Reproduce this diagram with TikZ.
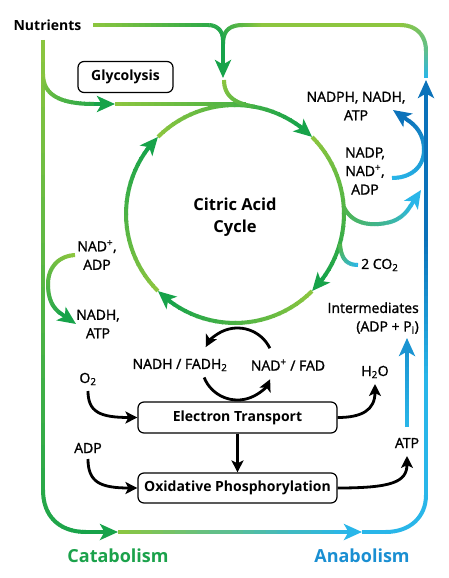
\documentclass[tikz,border=0pt]{standalone}
\usepackage{fontspec}
\setmainfont{Open Sans}
\newfontfamily\lblfont[FakeBold=1.4]{Open Sans}
\usetikzlibrary{arrows.meta,calc}
\definecolor{LG}{HTML}{8DC63F}
\definecolor{DG}{HTML}{17A34A}
\definecolor{MG}{HTML}{52B547}
\definecolor{LB}{HTML}{29B6E9}
\definecolor{DB}{HTML}{0B72BA}
\definecolor{CatG}{HTML}{1BA24B}
\definecolor{AnaB}{HTML}{1A8FD2}
% gradient stroke along one path segment: colA colB pctA pctB {segment}
\newcommand\gseg[5]{%
  \foreach \k in {0,...,19}{%
    \pgfmathsetmacro\gta{\k/20}%
    \pgfmathsetmacro\gtb{min(1,(\k+1.2)/20)}%
    \pgfmathsetmacro\gpc{#3+(#4-#3)*(\k+0.5)/20}%
    \path #5 coordinate[pos=\gta] (ga) coordinate[pos=\gtb] (gb);%
    \draw[gline, draw=#2!\gpc!#1] (ga) -- (gb);%
  }%
}
% gradient circular arc: colA colB cx cy r a1 a2
\newcommand\garc[7]{%
  \foreach \k in {0,...,23}{%
    \pgfmathsetmacro\gta{#6+(#7-#6)*\k/24}%
    \pgfmathsetmacro\gtb{#6+(#7-#6)*min(1,(\k+1.2)/24)}%
    \pgfmathsetmacro\gpc{100*(\k+0.5)/24}%
    \draw[gline, draw=#2!\gpc!#1] ([shift={(#3,#4)}]\gta:#5) -- ([shift={(#3,#4)}]\gtb:#5);%
  }%
}
\tikzset{
  gline/.style={line width=4pt, line cap=butt},
  garrow/.style={line width=4pt, -{Stealth[length=18pt,width=16pt,inset=4.5pt]}},
  barrow/.style={line width=2.8pt, -{Stealth[length=12pt,width=12pt,inset=3pt]}},
  box/.style={draw, rounded corners=6pt, line width=1.2pt, inner sep=0pt,
    minimum width=199pt, font=\bfseries\fontsize{14}{16}\selectfont},
  lbl/.style={inner sep=0pt, font=\lblfont\fontsize{14}{18.5}\selectfont},
  ttl/.style={inner sep=0pt, font=\bfseries\fontsize{14}{16}\selectfont},
}
\begin{document}
\begin{tikzpicture}[x=1pt,y=-1pt]
\fill[white] (0,0) rectangle (449,578);
\useasboundingbox (0,0) rectangle (449,578);

% ---- Nutrients top line and branches
\gseg{LG}{DG}{0}{80}{(93,25) -- (208,25)}
\gseg{LG}{DG}{80}{100}{(208,25) .. controls (217,25) and (223,31) .. (223,40)}
\draw[garrow,DG] (223,39.5) -- (223,78);
\gseg{DG}{LG}{0}{60}{(223,44) .. controls (223,31) and (229,25) .. (243,25)}
\gseg{DG}{LG}{60}{100}{(243,25) -- (262,25)}
\draw[gline,LG] (261.5,25) -- (400.5,25);
\gseg{LG}{LB}{0}{45}{(400,25) .. controls (416,25) and (426,35) .. (426,51)}
\gseg{LG}{LB}{45}{100}{(426,50.5) -- (426,78)}

% ---- left vertical (catabolism)
\gseg{LG}{DG}{0}{85}{(43,40) -- (43,490)}
\gseg{LG}{DG}{85}{100}{(43,490) .. controls (43,517) and (60,532) .. (86,532)}
\draw[garrow,DG] (85.5,532) -- (118,532);

% ---- branch to glycolysis line
\gseg{LG}{DG}{0}{85}{(43,74) .. controls (43,95) and (60,104) .. (94,104)}
\draw[garrow,DG] (93.5,104) -- (115,104);
\gseg{LG}{DG}{0}{60}{(115,104) -- (246,104)}

% ---- citric acid cycle
\garc{LG}{DG}{235}{214}{109}{-135}{-53}
\draw[garrow,DG] ([shift={(235,214)}]-54:109) -- ([shift={(235,214)}]-45:109);
\garc{LG}{DG}{235}{214}{109}{-45}{37}
\draw[garrow,DG] ([shift={(235,214)}]36:109) -- ([shift={(235,214)}]45:109);
\garc{LG}{DG}{235}{214}{109}{45}{127}
\draw[garrow,DG] ([shift={(235,214)}]126:109) -- ([shift={(235,214)}]135:109);
\garc{LG}{DG}{235}{214}{109}{135}{217}
\draw[garrow,DG] ([shift={(235,214)}]216:109) -- ([shift={(235,214)}]225:109);

% ---- junction curve into cycle
\gseg{LG}{DG}{0}{60}{(224,80) .. controls (224,97) and (236.3,103.6) .. (254,106.7)}

% ---- right branches from cycle
\gseg{MG}{LB}{0}{50}{(344,207) .. controls (350,221) and (366,227) .. (386,223)}
\gseg{MG}{LB}{50}{95}{(386,223) .. controls (398,221) and (406,214) .. (411,205)}
\draw[garrow,LB] (410.5,206) -- (421,190);
\gseg{MG}{LB}{0}{100}{(340,244) .. controls (341,258) and (346,265) .. (358,265)}

% ---- NADP -> NADPH curve
\gseg{LB}{DB}{0}{50}{(392,178) .. controls (412,178) and (424,166) .. (424,150)}
\gseg{LB}{DB}{50}{95}{(424,150) .. controls (424,138) and (419,128) .. (409,121)}
\draw[garrow,DB] (409.5,121.4) -- (393,110);

% ---- right vertical (anabolism)
\draw[gline,LB] (361.5,532) -- (386,532);
\draw[gline,LB] (385.5,532) .. controls (410,532) and (426,517) .. (426,495);
\draw[gline,LB] (426,495.5) -- (426,379.5);
\gseg{LB}{DB}{0}{100}{(426,380) -- (426,240)}
\draw[garrow,DB] (426,240.5) -- (426,80);

% ---- bottom line
\gseg{LG}{LB}{0}{100}{(118,532) -- (345,532)}
\draw[garrow,LB] (344.5,532) -- (362,532);

% ---- NAD+ -> NADH left curve
\gseg{LG}{DG}{0}{50}{(75,255) .. controls (58,256) and (48,268) .. (48,284)}
\gseg{LG}{DG}{50}{90}{(48,284) .. controls (48,298) and (52,307) .. (60,313)}
\draw[garrow,DG] (59.5,312.6) -- (76,324);

% ---- intermediates arrow
\gseg{LB}{DB}{0}{45}{(407,427) -- (407,356)}
\draw[garrow,draw=LB!50!DB] (407,356.5) -- (407,338);

% ---- boxes
\node[box, minimum width=95pt, minimum height=31pt] (gly) at (125.5,77) {Glycolysis};
\node[box, minimum height=31pt] (et) at (237.5,417.5) {Electron Transport};
\node[box, minimum height=30pt] (op) at (237.5,488) {Oxidative Phosphorylation};

% ---- texts
\node[ttl] (nut) at (47.5,25) {Nutrients};
\node[lbl, align=center] (nadph) at (356,106) {NADPH, NADH,\\ATP};
\node[lbl, align=center] (nadp) at (365,171) {NADP,\\NAD\textsuperscript{+},\\ADP};
\node[inner sep=0pt, align=center, font=\bfseries\fontsize{16.5}{22}\selectfont] (tca) at (235,217) {Citric Acid\\Cycle};
\node[lbl, align=center] (nadl) at (97,255) {NAD\textsuperscript{+},\\ADP};
\node[lbl, align=center] (nadhl) at (98,324) {NADH,\\ATP};
\node[lbl, anchor=west] (co2) at (361,265) {2 CO\textsubscript{2}};
\node[lbl, align=right, anchor=east] (inter) at (419,318) {Intermediates\\(ADP + P\textsubscript{i})};
\node[lbl] (nadh) at (180,365) {NADH / FADH\textsubscript{2}};
\node[lbl] (nadf) at (288,365) {NAD\textsuperscript{+} / FAD};
\node[lbl] (o2) at (88,379) {O\textsubscript{2}};
\node[lbl] (h2o) at (375,372) {H\textsubscript{2}O};
\node[lbl] (adp) at (88,448) {ADP};
\node[lbl] (atp) at (407,443) {ATP};
\node[inner sep=0pt, text=CatG, font=\bfseries\fontsize{18}{20}\selectfont] (cat) at (118,556) {Catabolism};
\node[inner sep=0pt, text=AnaB, font=\bfseries\fontsize{18}{20}\selectfont] (ana) at (362,556) {Anabolism};

% ---- black connectors
\coordinate (o2s) at (88,391);
\coordinate (adps) at (88,459);
\coordinate (h2oe) at (375,384);
\coordinate (atpe) at (407,456);
\draw[barrow] (et.south) -- (op.north);
\draw[barrow] (o2s) .. controls (88,412) and (100,417.5) .. (et.west);
\draw[barrow] (et.east) .. controls (362,417.5) and (375,410) .. (h2oe);
\draw[barrow] (adps) .. controls (88,482) and (100,488) .. (op.west);
\draw[barrow] (op.east) .. controls (392,488) and (407,482) .. (atpe);
\draw[barrow] ([shift={(237.5,364)}]-26:36) arc[start angle=-26, end angle=-152, radius=36];
\draw[barrow] ([shift={(237.5,364)}]158:36) arc[start angle=158, end angle=25, radius=36];
\end{tikzpicture}
\end{document}
